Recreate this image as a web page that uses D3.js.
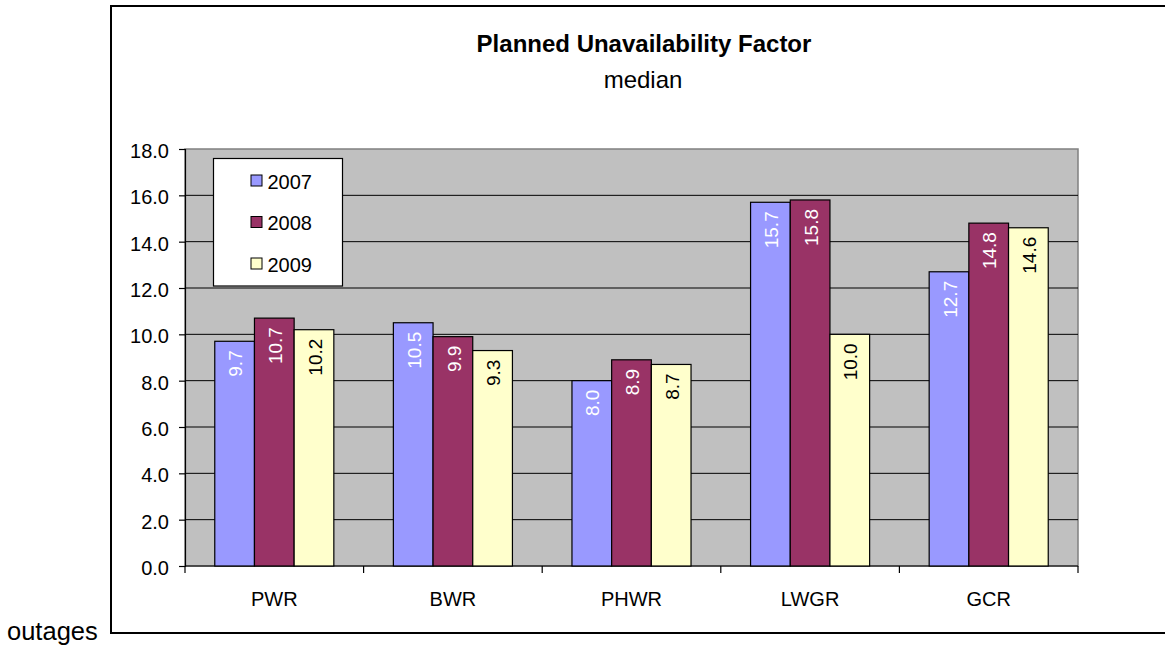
<!DOCTYPE html>
<html>
<head>
<meta charset="utf-8">
<script src="https://cdn.jsdelivr.net/npm/d3@7"></script>
<style>
  html, body { margin: 0; padding: 0; background: #fff; }
  svg { display: block; font-family: "Liberation Sans", Arial, sans-serif; }
</style>
</head>
<body>
<svg id="chart" width="1165" height="645"></svg>
<script>
// Reactor types and median planned unavailability factor per year
const categories = ["PWR", "BWR", "PHWR", "LWGR", "GCR"];
const seriesNames = ["2007", "2008", "2009"];
const values2007 = [9.7, 10.5, 8.0, 15.7, 12.7];
const values2008 = [10.7, 9.9, 8.9, 15.8, 14.8];
const values2009 = [10.2, 9.3, 8.7, 10.0, 14.6];
const yTicks = [0, 2, 4, 6, 8, 10, 12, 14, 16, 18];

const seriesValues = [values2007, values2008, values2009];
const fills = ["#9999FF", "#993366", "#FFFFCC"];
const labelColors = ["#ffffff", "#ffffff", "#000000"];

const svg = d3.select("#chart");

// outer chart frame (extends past the right edge)
svg.append("rect")
  .attr("x", 111).attr("y", 6)
  .attr("width", 1070).attr("height", 627)
  .attr("fill", "#fff").attr("stroke", "#000").attr("stroke-width", 2);

svg.append("text")
  .attr("x", 7).attr("y", 639.5)
  .attr("font-size", 25.5).attr("fill", "#000")
  .text("outages");

// titles
svg.append("text")
  .attr("x", 644).attr("y", 52)
  .attr("text-anchor", "middle").attr("font-size", 24).attr("font-weight", "bold")
  .text("Planned Unavailability Factor");
svg.append("text")
  .attr("x", 643).attr("y", 88)
  .attr("text-anchor", "middle").attr("font-size", 24)
  .text("median");

// plot area
const plot = { left: 185, right: 1078, top: 149, bottom: 566 };

const x = d3.scaleBand().domain(categories).range([plot.left, plot.right]).paddingInner(0).paddingOuter(0);
const y = d3.scaleLinear().domain([0, 18]).range([plot.bottom, plot.top]);
const groupWidth = x.bandwidth() * 3 / 4.5;
const xs = d3.scaleBand().domain(seriesNames)
  .range([(x.bandwidth() - groupWidth) / 2, (x.bandwidth() + groupWidth) / 2]);

svg.append("rect")
  .attr("x", plot.left).attr("y", plot.top)
  .attr("width", plot.right - plot.left).attr("height", plot.bottom - plot.top)
  .attr("fill", "#C0C0C0").attr("stroke", "#808080").attr("stroke-width", 1.5);

// horizontal gridlines
svg.append("g").selectAll("line")
  .data(yTicks.filter(t => t > 0 && t < 18))
  .join("line")
  .attr("x1", plot.left).attr("x2", plot.right)
  .attr("y1", d => y(d)).attr("y2", d => y(d))
  .attr("stroke", "#000").attr("stroke-width", 1);

// y axis
const yAxis = svg.append("g")
  .attr("transform", `translate(${plot.left},0)`)
  .call(d3.axisLeft(y).tickValues(yTicks).tickFormat(d3.format(".1f")).tickSize(6).tickPadding(10));
yAxis.select(".domain").attr("stroke", "#000").attr("stroke-width", 1.2);
yAxis.selectAll(".tick line").attr("stroke", "#000").attr("stroke-width", 1.2);
yAxis.selectAll("text").attr("font-size", 20).attr("fill", "#000")
  .attr("font-family", "Liberation Sans, Arial, sans-serif").attr("dy", "0.42em");

// x axis with ticks at category boundaries
const xAxisG = svg.append("g").attr("transform", `translate(0,${plot.bottom})`);
xAxisG.append("line")
  .attr("x1", plot.left).attr("x2", plot.right)
  .attr("y1", 0).attr("y2", 0)
  .attr("stroke", "#000").attr("stroke-width", 1.2);
const boundaries = categories.map(c => x(c)).concat([x(categories[categories.length - 1]) + x.bandwidth()]);
xAxisG.selectAll("line.bt").data(boundaries).join("line")
  .attr("class", "bt")
  .attr("x1", d => d).attr("x2", d => d)
  .attr("y1", 0).attr("y2", 7)
  .attr("stroke", "#000").attr("stroke-width", 1.2);
xAxisG.selectAll("text").data(categories).join("text")
  .attr("x", d => x(d) + x.bandwidth() / 2)
  .attr("y", 40)
  .attr("text-anchor", "middle").attr("font-size", 20).attr("fill", "#000")
  .text(d => d);

// bars
const barData = [];
categories.forEach((c, i) => {
  seriesNames.forEach((s, j) => {
    barData.push({ cat: c, series: s, idx: j, value: seriesValues[j][i] });
  });
});

svg.append("g").selectAll("rect")
  .data(barData)
  .join("rect")
  .attr("x", d => x(d.cat) + xs(d.series))
  .attr("y", d => y(d.value))
  .attr("width", xs.bandwidth())
  .attr("height", d => y(0) - y(d.value))
  .attr("fill", d => fills[d.idx])
  .attr("stroke", "#000").attr("stroke-width", 1.2);

// rotated value labels inside bar tops
svg.append("g").selectAll("text")
  .data(barData)
  .join("text")
  .attr("transform", d => `translate(${x(d.cat) + xs(d.series) + xs.bandwidth() / 2 + 1},${y(d.value) + 9}) rotate(-90)`)
  .attr("text-anchor", "end")
  .attr("dy", "0.35em")
  .attr("font-size", 19)
  .attr("fill", d => labelColors[d.idx])
  .text(d => d3.format(".1f")(d.value));

// legend
const legend = svg.append("g");
legend.append("rect")
  .attr("x", 213.5).attr("y", 158.5)
  .attr("width", 129).attr("height", 127.5)
  .attr("fill", "#fff").attr("stroke", "#000").attr("stroke-width", 1.2);
const rowY = [181, 222.5, 264];
seriesNames.forEach((s, j) => {
  legend.append("rect")
    .attr("x", 251).attr("y", rowY[j] - 6)
    .attr("width", 11).attr("height", 11)
    .attr("fill", fills[j]).attr("stroke", "#000").attr("stroke-width", 1);
  legend.append("text")
    .attr("x", 267.5).attr("y", rowY[j] + 7.5)
    .attr("font-size", 20).attr("fill", "#000")
    .text(s);
});
</script>
</body>
</html>
